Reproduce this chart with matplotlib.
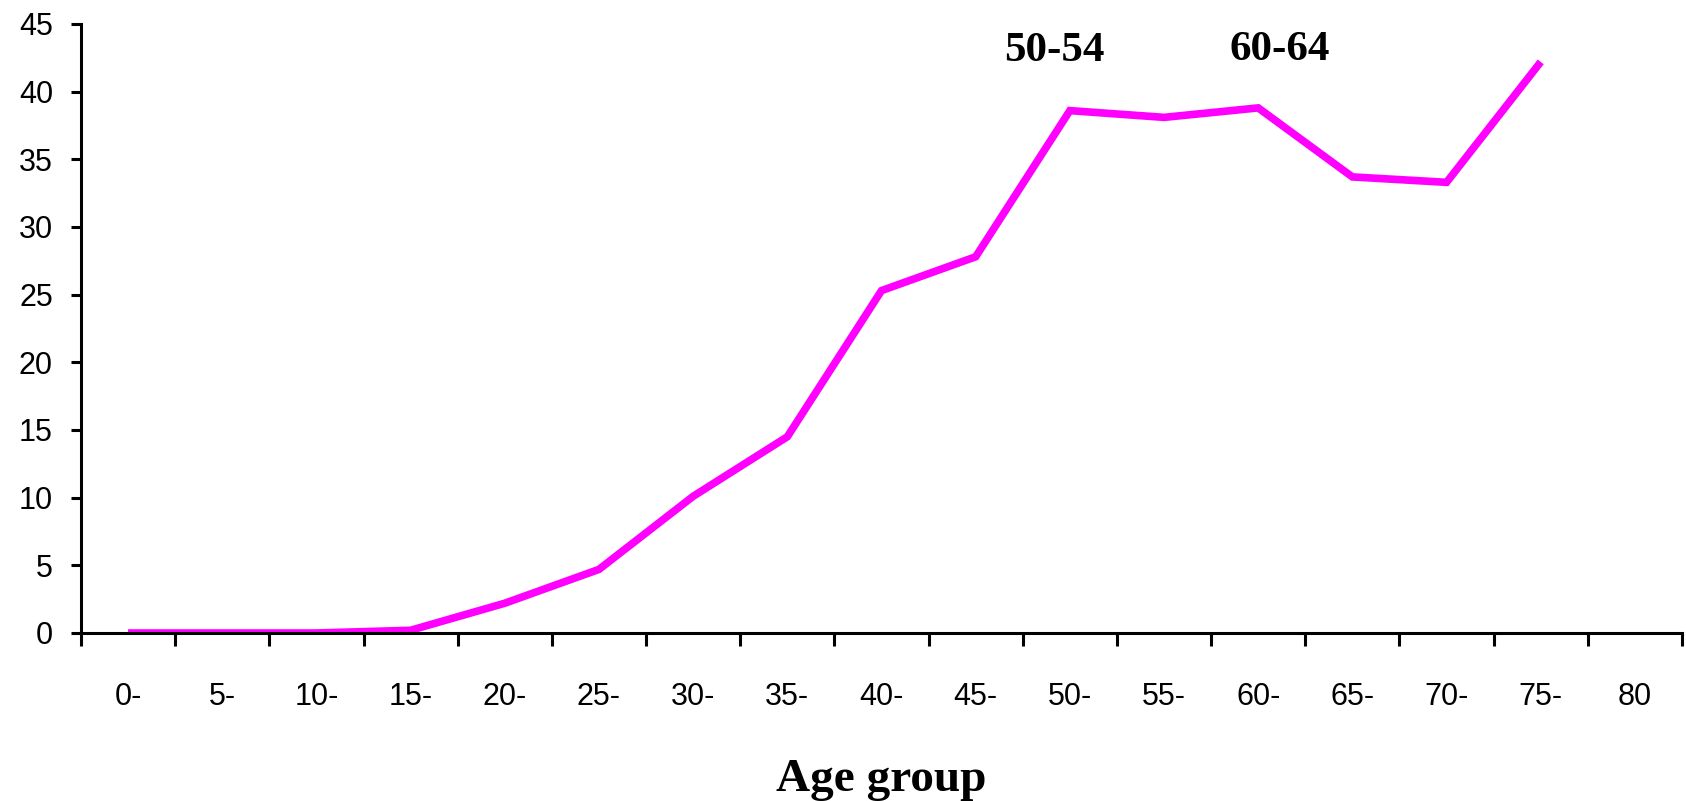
import matplotlib
matplotlib.use("Agg")
import matplotlib.pyplot as plt
from matplotlib.ticker import FixedLocator

# values (percent by age group)
age_groups = ["0-", "5-", "10-", "15-", "20-", "25-", "30-", "35-", "40-",
              "45-", "50-", "55-", "60-", "65-", "70-", "75-", "80"]
values = [0, 0, 0, 0.2, 2.2, 4.7, 10.1, 14.5, 25.3, 27.8,
          38.6, 38.1, 38.8, 33.7, 33.3, 42.2]
peak_labels = ["50-54", "60-64"]
peak_x = [9.84, 12.23]
peak_y = [43.0, 43.1]
y_ticks = list(range(0, 50, 5))

fig = plt.figure(figsize=(16.86, 8.01), dpi=100)
ax = fig.add_axes([0.04804, 0.20974, 0.94959, 0.76030])

ax.plot(range(len(values)), values, color="#FF00FF", linewidth=5.5,
        solid_joinstyle="miter", solid_capstyle="butt")

ax.set_xlim(-0.5, len(age_groups) - 0.5)
ax.set_ylim(0, 45)

# category axis: tick marks between groups, labels at centres
ax.xaxis.set_major_locator(FixedLocator([i - 0.5 for i in range(len(age_groups) + 1)]))
ax.xaxis.set_minor_locator(FixedLocator(range(len(age_groups))))
ax.set_xticklabels([], minor=False)
ax.set_xticklabels(age_groups, minor=True, fontsize=22, family="Liberation Sans")
ax.tick_params(axis="x", which="major", direction="out", length=9.5, width=2.2)
ax.tick_params(axis="x", which="minor", length=0, pad=35)

ax.set_yticks(y_ticks)
ax.set_yticklabels([str(v) for v in y_ticks], fontsize=22, family="Liberation Sans")
ax.tick_params(axis="y", direction="out", length=7.2, width=2.2, pad=13)

for side in ["top", "right"]:
    ax.spines[side].set_visible(False)
ax.spines["left"].set_linewidth(2.2)
ax.spines["bottom"].set_linewidth(2.2)

for lab, x, y in zip(peak_labels, peak_x, peak_y):
    ax.text(x, y, lab, ha="center", va="center", fontsize=31,
            fontweight="bold", family="Liberation Serif")

ax.set_xlabel("Age group", fontsize=34, fontweight="bold", family="Liberation Serif")
ax.xaxis.set_label_coords(0.5, -0.207)

fig.savefig("out.png", dpi=100)
